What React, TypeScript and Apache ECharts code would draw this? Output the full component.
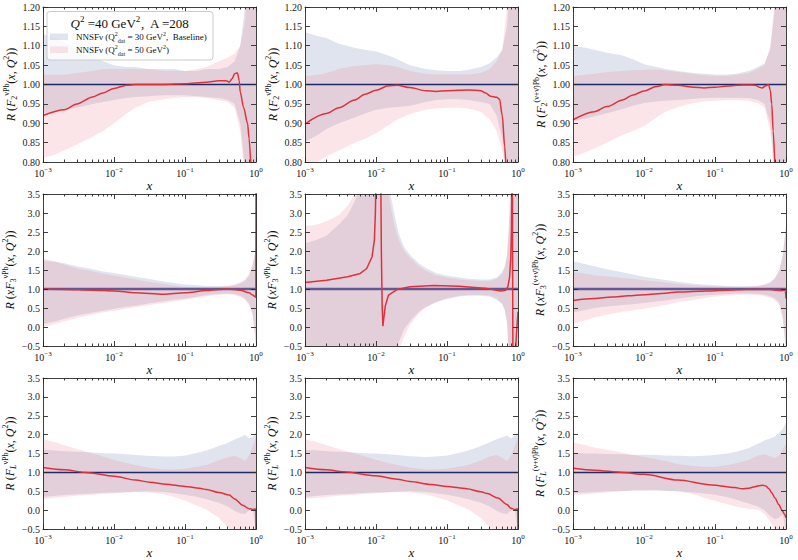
import React, { useEffect, useRef } from "react";
import * as echarts from "echarts";

const FONT = '"Liberation Serif", "DejaVu Serif", serif';

// ---------- data ----------
const BAND_X = [0.001, 0.0015, 0.002, 0.003, 0.005, 0.007, 0.01, 0.015, 0.02, 0.03, 0.05, 0.07, 0.1, 0.15, 0.2, 0.3, 0.4, 0.5, 0.6, 0.7, 0.8, 0.9, 1.0];
const P5_BAND_X = [0.001, 0.0015, 0.002, 0.003, 0.004, 0.005, 0.006, 0.008, 0.01, 0.012, 0.014, 0.016, 0.018, 0.02, 0.022, 0.025, 0.03, 0.04, 0.05, 0.07, 0.1, 0.15, 0.2, 0.3, 0.4, 0.5, 0.6, 0.65, 0.7, 0.75, 0.8, 0.9, 1.0];

// Panel 1: F2 nu Pb
const P1_RED_X = [0.001, 0.002, 0.003, 0.005, 0.007, 0.01, 0.015, 0.02, 0.03, 0.05, 0.1, 0.2, 0.3, 0.38, 0.42, 0.46, 0.5, 0.55, 0.58, 0.6, 0.67, 0.76, 0.8, 0.85];
const P1_RED_Y = [0.92, 0.935, 0.95, 0.968, 0.978, 0.99, 0.998, 1.0, 1.0, 1.0, 1.002, 1.006, 1.01, 1.01, 1.006, 1.015, 1.028, 1.03, 1.01, 0.98, 0.94, 0.9, 0.86, 0.78];
const P1_BASE_HI = [1.13, 1.12, 1.11, 1.09, 1.07, 1.06, 1.05, 1.045, 1.045, 1.04, 1.04, 1.04, 1.035, 1.035, 1.04, 1.04, 1.045, 1.06, 1.1, 1.2, 1.35, 1.5, 1.6];
const P1_NEW_HI = [1.025, 1.025, 1.025, 1.03, 1.035, 1.04, 1.04, 1.04, 1.04, 1.04, 1.035, 1.035, 1.035, 1.04, 1.045, 1.06, 1.07, 1.08, 1.1, 1.16, 1.3, 1.5, 1.7];
const P1_BASE_LO = [0.925, 0.93, 0.935, 0.94, 0.95, 0.955, 0.96, 0.965, 0.968, 0.97, 0.972, 0.972, 0.972, 0.97, 0.968, 0.965, 0.96, 0.95, 0.9, 0.78, 0.65, 0.55, 0.5];
const P1_NEW_LO = [0.81, 0.82, 0.83, 0.845, 0.865, 0.88, 0.9, 0.925, 0.94, 0.955, 0.962, 0.965, 0.968, 0.968, 0.965, 0.96, 0.955, 0.94, 0.88, 0.76, 0.62, 0.5, 0.4];

// Panel 2: F2 nubar Pb
const P2_RED_X = [0.001, 0.002, 0.003, 0.005, 0.007, 0.01, 0.015, 0.02, 0.03, 0.05, 0.07, 0.1, 0.2, 0.3, 0.35, 0.41, 0.5, 0.55, 0.6, 0.65, 0.68];
const P2_RED_Y = [0.898, 0.925, 0.94, 0.96, 0.975, 0.985, 0.997, 0.998, 0.992, 0.984, 0.982, 0.984, 0.986, 0.984, 0.978, 0.97, 0.967, 0.962, 0.92, 0.84, 0.78];
const P2_BASE_HI = [1.135, 1.125, 1.12, 1.105, 1.095, 1.09, 1.085, 1.075, 1.065, 1.05, 1.04, 1.037, 1.035, 1.035, 1.038, 1.045, 1.055, 1.07, 1.09, 1.15, 1.3, 1.45, 1.6];
const P2_NEW_HI = [1.022, 1.025, 1.03, 1.04, 1.048, 1.05, 1.052, 1.05, 1.045, 1.035, 1.028, 1.026, 1.026, 1.026, 1.026, 1.03, 1.04, 1.06, 1.09, 1.2, 1.4, 1.55, 1.7];
const P2_BASE_LO = [0.852, 0.87, 0.885, 0.9, 0.915, 0.925, 0.935, 0.94, 0.942, 0.945, 0.955, 0.96, 0.962, 0.962, 0.96, 0.955, 0.95, 0.92, 0.86, 0.75, 0.6, 0.5, 0.4];
const P2_NEW_LO = [0.77, 0.8, 0.815, 0.83, 0.85, 0.86, 0.874, 0.895, 0.91, 0.924, 0.935, 0.938, 0.94, 0.94, 0.938, 0.93, 0.91, 0.88, 0.83, 0.75, 0.6, 0.5, 0.4];

// Panel 3: F2 (nu+nubar) Pb
const P3_RED_X = [0.001, 0.002, 0.003, 0.005, 0.007, 0.01, 0.015, 0.02, 0.03, 0.05, 0.07, 0.1, 0.15, 0.2, 0.3, 0.37, 0.42, 0.46, 0.52, 0.57, 0.6, 0.63, 0.66, 0.7];
const P3_RED_Y = [0.909, 0.93, 0.943, 0.96, 0.973, 0.983, 0.995, 1.0, 0.998, 0.993, 0.991, 0.993, 0.996, 0.998, 0.999, 0.998, 0.993, 0.991, 0.997, 1.0, 0.985, 0.95, 0.88, 0.78];
const P3_BASE_HI = [1.1, 1.095, 1.09, 1.082, 1.075, 1.065, 1.052, 1.045, 1.04, 1.035, 1.03, 1.028, 1.026, 1.026, 1.028, 1.035, 1.045, 1.055, 1.09, 1.2, 1.4, 1.5, 1.6];
const P3_NEW_HI = [1.022, 1.025, 1.028, 1.032, 1.035, 1.037, 1.038, 1.039, 1.036, 1.032, 1.027, 1.024, 1.022, 1.022, 1.025, 1.03, 1.04, 1.05, 1.1, 1.22, 1.4, 1.5, 1.65];
const P3_BASE_LO = [0.905, 0.912, 0.918, 0.926, 0.937, 0.945, 0.952, 0.956, 0.958, 0.96, 0.963, 0.965, 0.966, 0.966, 0.966, 0.965, 0.96, 0.95, 0.9, 0.78, 0.6, 0.5, 0.4];
const P3_NEW_LO = [0.813, 0.825, 0.835, 0.85, 0.87, 0.88, 0.893, 0.915, 0.93, 0.942, 0.952, 0.956, 0.958, 0.96, 0.96, 0.958, 0.952, 0.94, 0.88, 0.76, 0.6, 0.5, 0.4];

// Panel 4: xF3 nu Pb
const P4_RED_X = [0.001, 0.002, 0.005, 0.01, 0.02, 0.05, 0.1, 0.2, 0.3, 0.4, 0.6, 0.8, 0.9, 0.97, 0.995, 1.0];
const P4_RED_Y = [1.0, 0.99, 0.97, 0.95, 0.9, 0.86, 0.9, 0.96, 0.99, 1.0, 0.97, 0.9, 0.84, 0.8, 0.78, 4.0];
const P4_BASE_HI = [1.75, 1.72, 1.68, 1.6, 1.52, 1.46, 1.42, 1.36, 1.32, 1.27, 1.2, 1.16, 1.12, 1.1, 1.08, 1.07, 1.08, 1.1, 1.15, 1.22, 1.35, 1.6, 2.1];
const P4_NEW_HI = [1.8, 1.72, 1.64, 1.54, 1.46, 1.4, 1.35, 1.29, 1.25, 1.19, 1.13, 1.09, 1.06, 1.05, 1.05, 1.06, 1.08, 1.12, 1.18, 1.25, 1.4, 1.7, 2.05];
const P4_BASE_LO = [0.08, 0.15, 0.22, 0.3, 0.38, 0.43, 0.48, 0.53, 0.56, 0.62, 0.68, 0.72, 0.75, 0.8, 0.84, 0.87, 0.88, 0.86, 0.82, 0.75, 0.62, 0.35, -0.4];
const P4_NEW_LO = [0.0, 0.08, 0.15, 0.24, 0.33, 0.38, 0.43, 0.48, 0.52, 0.57, 0.63, 0.67, 0.71, 0.77, 0.81, 0.85, 0.86, 0.84, 0.79, 0.72, 0.58, 0.3, -0.6];

// Panel 5: xF3 nubar Pb
const P5_RED_X = [0.001, 0.002, 0.004, 0.006, 0.0074, 0.0088, 0.0095, 0.0098, 0.0101, 0.0104, 0.0112, 0.0116, 0.0119, 0.0122, 0.0125, 0.0135, 0.015, 0.02, 0.03, 0.065, 0.15, 0.37, 0.57, 0.67, 0.72, 0.76, 0.79, 0.81, 0.83, 0.86, 0.9, 0.95, 1.0];
const P5_RED_Y = [1.17, 1.23, 1.32, 1.41, 1.54, 1.85, 2.3, 3.0, 4.5, 8, 8, 4.5, 2.0, 0.6, 0.02, 0.55, 0.84, 0.99, 1.06, 1.09, 1.07, 1.01, 0.95, 0.97, 1.06, 1.3, 1.8, 2.6, 5, -5, -1.0, -0.2, 0.4];
const P5_BASE_HI = [2.2, 2.3, 2.4, 2.7, 2.95, 3.3, 3.7, 5, 5, 5, 5, 3.5, 3.0, 2.6, 2.35, 2.1, 1.9, 1.68, 1.55, 1.42, 1.35, 1.3, 1.27, 1.25, 1.25, 1.3, 1.45, 1.6, 1.9, 2.8, 4, 5, 5];
const P5_NEW_HI = [2.65, 2.7, 2.78, 2.95, 3.2, 3.5, 3.9, 5, 5, 5, 3.8, 3.2, 2.7, 2.4, 2.2, 2.0, 1.82, 1.6, 1.48, 1.36, 1.3, 1.25, 1.23, 1.21, 1.21, 1.26, 1.4, 1.55, 1.85, 2.6, 4, 5, 5];
const P5_BASE_LO = [-3, -3, -3, -3, -3, -3, -3, -3, -3, -3, -3, -3, -0.6, -0.5, -0.3, -0.05, 0.15, 0.4, 0.52, 0.65, 0.74, 0.8, 0.82, 0.82, 0.8, 0.72, 0.6, 0.45, 0.1, -0.8, -3, -3, -3];
const P5_NEW_LO = [-3, -3, -3, -3, -3, -3, -3, -3, -3, -3, -3, -3, -1, -0.8, -0.5, -0.25, 0.05, 0.35, 0.52, 0.66, 0.76, 0.82, 0.85, 0.85, 0.83, 0.76, 0.62, 0.45, 0.15, -0.8, -3, -3, -3];

// Panel 6: xF3 (nu+nubar) Pb
const P6_RED_X = [0.001, 0.002, 0.0035, 0.006, 0.01, 0.02, 0.03, 0.06, 0.09, 0.15, 0.27, 0.4, 0.57, 0.71, 0.8, 0.88, 0.95, 0.98, 1.0];
const P6_RED_Y = [0.7, 0.75, 0.79, 0.82, 0.85, 0.89, 0.92, 0.94, 0.95, 0.97, 0.99, 0.99, 0.99, 0.97, 0.96, 0.96, 0.97, 0.95, 0.75];
const P6_BASE_HI = [1.73, 1.65, 1.6, 1.52, 1.44, 1.38, 1.32, 1.27, 1.24, 1.19, 1.14, 1.12, 1.1, 1.08, 1.07, 1.07, 1.08, 1.12, 1.18, 1.3, 1.5, 1.9, 2.7];
const P6_NEW_HI = [1.45, 1.4, 1.36, 1.33, 1.29, 1.26, 1.23, 1.2, 1.17, 1.14, 1.1, 1.08, 1.07, 1.06, 1.06, 1.06, 1.08, 1.11, 1.16, 1.27, 1.45, 1.85, 2.6];
const P6_BASE_LO = [0.38, 0.45, 0.5, 0.54, 0.58, 0.6, 0.63, 0.67, 0.7, 0.75, 0.8, 0.83, 0.85, 0.87, 0.88, 0.88, 0.87, 0.85, 0.81, 0.75, 0.65, 0.3, -0.6];
const P6_NEW_LO = [0.08, 0.18, 0.25, 0.33, 0.4, 0.44, 0.48, 0.54, 0.58, 0.65, 0.72, 0.76, 0.8, 0.83, 0.85, 0.85, 0.84, 0.81, 0.77, 0.7, 0.58, 0.2, -0.7];

// Panel 7: FL nu Pb
const P7_RED_X = [0.001, 0.002, 0.004, 0.01, 0.02, 0.032, 0.054, 0.1, 0.16, 0.2, 0.3, 0.42, 0.5, 0.65, 0.8, 0.9, 0.97, 0.995, 1.0];
const P7_RED_Y = [1.13, 1.07, 1.0, 0.9, 0.8, 0.74, 0.69, 0.63, 0.58, 0.55, 0.47, 0.4, 0.3, 0.13, 0.04, 0.02, 0.03, 0.03, -0.8];
const P7_BASE_HI = [1.61, 1.58, 1.56, 1.55, 1.53, 1.51, 1.5, 1.48, 1.46, 1.44, 1.42, 1.42, 1.45, 1.52, 1.58, 1.7, 1.78, 1.87, 1.93, 2.0, 1.9, 1.95, 2.08];
const P7_NEW_HI = [1.88, 1.8, 1.72, 1.62, 1.5, 1.42, 1.33, 1.25, 1.2, 1.13, 1.08, 1.08, 1.1, 1.16, 1.2, 1.32, 1.4, 1.44, 1.38, 1.3, 1.45, 1.7, 1.95];
const P7_BASE_LO = [0.35, 0.38, 0.4, 0.42, 0.44, 0.46, 0.47, 0.48, 0.49, 0.5, 0.48, 0.45, 0.41, 0.35, 0.29, 0.2, 0.1, -0.02, -0.08, -0.1, 0.0, 0.05, -0.6];
const P7_NEW_LO = [0.3, 0.33, 0.35, 0.38, 0.41, 0.43, 0.45, 0.47, 0.48, 0.47, 0.42, 0.35, 0.26, 0.12, 0.02, -0.2, -0.45, -0.6, -0.8, -1, -1, -1, -1];

// Panel 8: FL nubar Pb
const P8_RED_X = [0.001, 0.002, 0.0035, 0.01, 0.02, 0.03, 0.06, 0.1, 0.19, 0.3, 0.37, 0.52, 0.7, 0.8, 0.9, 0.97, 0.995, 1.0];
const P8_RED_Y = [1.13, 1.07, 1.02, 0.91, 0.82, 0.76, 0.68, 0.63, 0.57, 0.49, 0.44, 0.32, 0.15, 0.05, 0.02, 0.03, 0.03, -0.8];
const P8_BASE_HI = [1.6, 1.58, 1.56, 1.55, 1.53, 1.51, 1.5, 1.48, 1.46, 1.43, 1.41, 1.42, 1.45, 1.52, 1.58, 1.7, 1.8, 1.88, 1.93, 1.98, 1.9, 1.98, 2.05];
const P8_NEW_HI = [1.88, 1.8, 1.72, 1.62, 1.5, 1.42, 1.33, 1.25, 1.2, 1.13, 1.08, 1.08, 1.1, 1.16, 1.2, 1.32, 1.42, 1.46, 1.38, 1.3, 1.45, 1.7, 1.95];
const P8_BASE_LO = [0.35, 0.38, 0.4, 0.42, 0.44, 0.46, 0.47, 0.48, 0.49, 0.5, 0.48, 0.45, 0.41, 0.35, 0.29, 0.2, 0.1, -0.02, -0.08, -0.1, 0.0, 0.05, -0.6];
const P8_NEW_LO = [0.3, 0.33, 0.35, 0.38, 0.41, 0.43, 0.45, 0.47, 0.48, 0.47, 0.42, 0.35, 0.26, 0.12, 0.02, -0.2, -0.45, -0.6, -0.8, -1, -1, -1, -1];

// Panel 9: FL (nu+nubar) Pb
const P9_RED_X = [0.001, 0.002, 0.005, 0.01, 0.03, 0.09, 0.19, 0.24, 0.3, 0.36, 0.41, 0.47, 0.52, 0.58, 0.63, 0.7, 0.79, 0.88, 0.95, 1.0];
const P9_RED_Y = [1.11, 1.06, 1.0, 0.95, 0.8, 0.67, 0.6, 0.57, 0.58, 0.62, 0.65, 0.66, 0.64, 0.56, 0.46, 0.32, 0.15, 0.0, -0.1, -0.2];
const P9_BASE_HI = [1.52, 1.5, 1.5, 1.49, 1.48, 1.47, 1.47, 1.46, 1.45, 1.44, 1.43, 1.44, 1.46, 1.5, 1.55, 1.65, 1.76, 1.85, 1.9, 1.95, 2.05, 2.15, 2.33];
const P9_NEW_HI = [1.8, 1.72, 1.66, 1.6, 1.52, 1.46, 1.41, 1.35, 1.3, 1.22, 1.17, 1.15, 1.15, 1.2, 1.24, 1.33, 1.45, 1.48, 1.42, 1.38, 1.45, 1.62, 1.76];
const P9_BASE_LO = [0.45, 0.47, 0.48, 0.5, 0.51, 0.52, 0.52, 0.52, 0.51, 0.5, 0.47, 0.44, 0.41, 0.34, 0.28, 0.18, 0.1, 0.0, -0.15, -0.24, -0.2, -0.1, -0.6];
const P9_NEW_LO = [0.4, 0.42, 0.44, 0.47, 0.5, 0.52, 0.53, 0.53, 0.52, 0.5, 0.42, 0.33, 0.25, 0.16, 0.1, 0.03, 0.02, -0.1, -0.3, -0.5, -0.7, -0.9, -1];

// Reference ratio (baseline / baseline)
const UNITY_X = [0.001, 1.0];
const UNITY_Y = [1, 1];

// Axis ranges per row
const ROW_Y_MIN = [0.8, -0.5, -0.5];
const ROW_Y_MAX = [1.2, 3.5, 3.5];
const ROW_Y_STEP = [0.05, 0.5, 0.5];
const X_DECADES = [-3, -2, -1, 0];
const MINOR_FACTORS = [2, 3, 4, 5, 6, 7, 8, 9];

// Texts
const SUP_NU = "νPb";
const SUP_NUBAR = "ν̄Pb";
const SUP_BOTH = "(ν+ν̄)Pb";
const fTitle = (sf: string, sup: string) =>
  `{i|R}{r| (}${sf}{sp|${sup}}{r|(}{i|x}{r|, }{i|Q}{sp|2}{r|))}`;
const Y_TITLES = [
  fTitle("{i|F}{sb|2}", SUP_NU),
  fTitle("{i|F}{sb|2}", SUP_NUBAR),
  fTitle("{i|F}{sb|2}", SUP_BOTH),
  fTitle("{i|xF}{sb|3}", SUP_NU),
  fTitle("{i|xF}{sb|3}", SUP_NUBAR),
  fTitle("{i|xF}{sb|3}", SUP_BOTH),
  fTitle("{i|F}{sbi|L}", SUP_NU),
  fTitle("{i|F}{sbi|L}", SUP_NUBAR),
  fTitle("{i|F}{sbi|L}", SUP_BOTH),
];
const LEGEND_TITLE = "{i|Q}{sp|2}{r| =40 GeV}{sp|2}{r|,  A =208}";
const LEGEND_LABELS = [
  "{r|NNSFν (Q}{sp|2}{sb|dat}{r| = 30 GeV}{sp|2}{r|,  Baseline)}",
  "{r|NNSFν (Q}{sp|2}{sb|dat}{r| = 50 GeV}{sp|2}{r|)}",
];

// ---------- styles / layout ----------
const COL_LEFT = [43, 305, 573];
const GRID_W = 213;
const ROW_TOP = [7, 194, 378];
const ROW_H = [155, 152, 154];
const BLUE_FILL = "rgba(100,120,170,0.2)";
const PINK_FILL = "rgba(240,110,130,0.18)";
const RED = "#e2303a";
const NAVY_ROW = [
  { color: "#1b2a6b", width: 1.5 },
  { color: "#44549a", width: 2.5 },
  { color: "#1b2a6b", width: 1.5 },
];
const NAVY_Z = [3.5, 2, 3.5];
const FRAME = { color: "#2a2a2a", width: 0.9 };

const rich = (size: number) => {
  const s = Math.round(size * 0.7);
  const base = { fontFamily: FONT, color: "#111", fill: "#111" };
  return {
    r: { ...base, fontSize: size, lineHeight: size + 4 },
    i: { ...base, fontSize: size, fontStyle: "italic", lineHeight: size + 4 },
    sp: { ...base, fontSize: s, verticalAlign: "top", lineHeight: s + 1 },
    sb: { ...base, fontSize: s, verticalAlign: "bottom", lineHeight: s + 1 },
    sbi: { ...base, fontSize: s, fontStyle: "italic", verticalAlign: "bottom", lineHeight: s + 1 },
    b: { ...base, fontSize: size, lineHeight: size + 4 },
  };
};

const PANELS = [
  { rx: P1_RED_X, ry: P1_RED_Y, bx: BAND_X, bhi: P1_BASE_HI, blo: P1_BASE_LO, nhi: P1_NEW_HI, nlo: P1_NEW_LO },
  { rx: P2_RED_X, ry: P2_RED_Y, bx: BAND_X, bhi: P2_BASE_HI, blo: P2_BASE_LO, nhi: P2_NEW_HI, nlo: P2_NEW_LO },
  { rx: P3_RED_X, ry: P3_RED_Y, bx: BAND_X, bhi: P3_BASE_HI, blo: P3_BASE_LO, nhi: P3_NEW_HI, nlo: P3_NEW_LO },
  { rx: P4_RED_X, ry: P4_RED_Y, bx: BAND_X, bhi: P4_BASE_HI, blo: P4_BASE_LO, nhi: P4_NEW_HI, nlo: P4_NEW_LO },
  { rx: P5_RED_X, ry: P5_RED_Y, bx: P5_BAND_X, bhi: P5_BASE_HI, blo: P5_BASE_LO, nhi: P5_NEW_HI, nlo: P5_NEW_LO },
  { rx: P6_RED_X, ry: P6_RED_Y, bx: BAND_X, bhi: P6_BASE_HI, blo: P6_BASE_LO, nhi: P6_NEW_HI, nlo: P6_NEW_LO },
  { rx: P7_RED_X, ry: P7_RED_Y, bx: BAND_X, bhi: P7_BASE_HI, blo: P7_BASE_LO, nhi: P7_NEW_HI, nlo: P7_NEW_LO },
  { rx: P8_RED_X, ry: P8_RED_Y, bx: BAND_X, bhi: P8_BASE_HI, blo: P8_BASE_LO, nhi: P8_NEW_HI, nlo: P8_NEW_LO },
  { rx: P9_RED_X, ry: P9_RED_Y, bx: BAND_X, bhi: P9_BASE_HI, blo: P9_BASE_LO, nhi: P9_NEW_HI, nlo: P9_NEW_LO },
];

const lg = (v: number) => Math.log10(v);

function bandRenderer(xs: number[], lo: number[], hi: number[], fill: string) {
  return (params: any, api: any) => {
    if (params.dataIndex !== 0) return null;
    const pts: number[][] = [];
    for (let j = 0; j < xs.length; j++) pts.push(api.coord([lg(xs[j]), hi[j]]));
    for (let j = xs.length - 1; j >= 0; j--) pts.push(api.coord([lg(xs[j]), lo[j]]));
    return { type: "polygon", silent: true, shape: { points: pts }, style: { fill, stroke: null } };
  };
}

function buildOption() {
  const minorTicks: number[] = [];
  for (const d of X_DECADES.slice(0, 3)) for (const k of MINOR_FACTORS) minorTicks.push(d + Math.log10(k));

  const grid: any[] = [];
  const xAxis: any[] = [];
  const yAxis: any[] = [];
  const series: any[] = [];

  PANELS.forEach((p, i) => {
    const row = Math.floor(i / 3);
    const col = i % 3;
    grid.push({ left: COL_LEFT[col], top: ROW_TOP[row], width: GRID_W, height: ROW_H[row], containLabel: false });

    const xc = {
      type: "value",
      gridIndex: i,
      min: X_DECADES[0],
      max: X_DECADES[X_DECADES.length - 1],
      interval: 1,
      z: 6,
      splitLine: { show: false },
      axisLine: { show: true, onZero: false, lineStyle: FRAME },
    };
    xAxis.push({
      ...xc,
      position: "bottom",
      axisTick: { inside: true, length: 5, lineStyle: FRAME },
      axisLabel: {
        margin: 4,
        formatter: (v: number) => `{b|10}{sp|${v === 0 ? "0" : "−" + Math.abs(v)}}`,
        rich: rich(10),
      },
      name: "x",
      nameLocation: "middle",
      nameGap: 11,
      nameTextStyle: { fontFamily: FONT, fontStyle: "italic", fontSize: 13, color: "#111" },
    });
    xAxis.push({
      ...xc,
      position: "bottom",
      axisLine: { show: false, onZero: false },
      axisTick: { inside: true, length: 2.5, customValues: minorTicks, lineStyle: FRAME },
      axisLabel: { show: false },
    });
    xAxis.push({
      ...xc,
      position: "top",
      axisTick: { inside: true, length: 5, lineStyle: FRAME },
      axisLabel: { show: false },
    });
    xAxis.push({
      ...xc,
      position: "top",
      axisLine: { show: false, onZero: false },
      axisTick: { inside: true, length: 2.5, customValues: minorTicks, lineStyle: FRAME },
      axisLabel: { show: false },
    });

    const yc = {
      type: "value",
      gridIndex: i,
      min: ROW_Y_MIN[row],
      max: ROW_Y_MAX[row],
      interval: ROW_Y_STEP[row],
      z: 6,
      splitLine: { show: false },
      axisLine: { show: true, onZero: false, lineStyle: FRAME },
      axisTick: { inside: true, length: 5, lineStyle: FRAME },
    };
    yAxis.push({
      ...yc,
      position: "left",
      axisLabel: {
        margin: 3,
        fontFamily: FONT,
        fontSize: 10,
        color: "#222",
        formatter: (v: number) => v.toFixed(row === 0 ? 2 : 1).replace("-", "−"),
      },
      name: Y_TITLES[i],
      nameLocation: "middle",
      nameRotate: 90,
      nameGap: 21,
      nameTextStyle: { fontFamily: FONT, fontSize: 12, color: "#111", rich: rich(12) },
    });
    yAxis.push({ ...yc, position: "right", axisLabel: { show: false } });

    const xi = i * 4;
    const yi = i * 2;
    series.push({
      type: "custom",
      xAxisIndex: xi,
      yAxisIndex: yi,
      z: 1,
      clip: true,
      silent: true,
      data: [[X_DECADES[0], 1]],
      renderItem: bandRenderer(p.bx, p.blo, p.bhi, BLUE_FILL),
    });
    series.push({
      type: "line",
      xAxisIndex: xi,
      yAxisIndex: yi,
      z: NAVY_Z[row],
      silent: true,
      symbol: "none",
      data: UNITY_X.map((x, j) => [lg(x), UNITY_Y[j]]),
      lineStyle: NAVY_ROW[row],
    });
    series.push({
      type: "custom",
      xAxisIndex: xi,
      yAxisIndex: yi,
      z: 3,
      clip: true,
      silent: true,
      data: [[X_DECADES[0], 1]],
      renderItem: bandRenderer(p.bx, p.nlo, p.nhi, PINK_FILL),
    });
    series.push({
      type: "line",
      xAxisIndex: xi,
      yAxisIndex: yi,
      z: 4,
      silent: true,
      symbol: "none",
      clip: true,
      smooth: i === 4 ? false : 0.3,
      smoothMonotone: "x",
      data: p.rx.map((x, j) => [lg(x), p.ry[j]]),
      lineStyle: { color: RED, width: 1.5 },
    });
  });

  const graphic = [
    {
      type: "rect",
      z: 100,
      shape: { x: 47, y: 11.5, width: 166, height: 48.5, r: 3 },
      style: { fill: "rgba(255,255,255,0.8)", stroke: "#cccccc", lineWidth: 1 },
    },
    {
      type: "text",
      z: 101,
      x: 130,
      y: 23,
      style: { text: LEGEND_TITLE, align: "center", verticalAlign: "middle", fontFamily: FONT, fontSize: 13, fill: "#111", rich: rich(13) },
    },
    { type: "rect", z: 101, shape: { x: 50, y: 33.5, width: 18, height: 6.5 }, style: { fill: BLUE_FILL } },
    {
      type: "text",
      z: 101,
      x: 76,
      y: 37,
      style: { text: LEGEND_LABELS[0], align: "left", verticalAlign: "middle", fontFamily: FONT, fontSize: 9, fill: "#111", rich: rich(9) },
    },
    { type: "rect", z: 101, shape: { x: 50, y: 46.5, width: 18, height: 6.5 }, style: { fill: PINK_FILL } },
    {
      type: "text",
      z: 101,
      x: 76,
      y: 50,
      style: { text: LEGEND_LABELS[1], align: "left", verticalAlign: "middle", fontFamily: FONT, fontSize: 9, fill: "#111", rich: rich(9) },
    },
  ];

  return {
    animation: false,
    backgroundColor: "#ffffff",
    textStyle: { fontFamily: FONT },
    grid,
    xAxis,
    yAxis,
    series,
    graphic,
  };
}

export default function App() {
  const ref = useRef<HTMLDivElement>(null);
  useEffect(() => {
    if (!ref.current) return;
    const chart = echarts.init(ref.current, null, { renderer: "svg" });
    chart.setOption(buildOption() as any);
    return () => chart.dispose();
  }, []);
  return (
    <div
      ref={ref}
      style={{ position: "absolute", left: 0, top: 0, width: 798, height: 560, background: "#fff" }}
    />
  );
}
